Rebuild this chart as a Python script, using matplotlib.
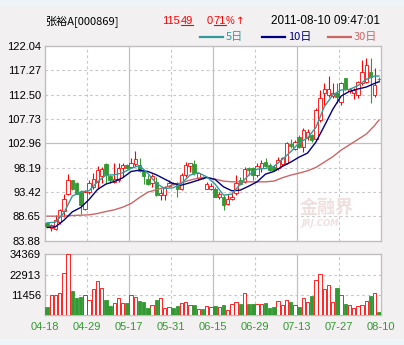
import matplotlib
matplotlib.use('Agg')
import matplotlib.pyplot as plt
from matplotlib.patches import Rectangle
from matplotlib.lines import Line2D
import numpy as np

# ---- data (张裕A, 2011-04-18 .. 2011-08-10) ----
opens = [87.38, 86.46, 86.27, 87.58, 89.73, 93.13, 95.75, 95.10, 93.46, 90.19,
         93.46, 94.44, 95.42, 96.54, 98.89, 96.54, 95.42, 95.75, 98.04, 98.70,
         98.24, 98.89, 98.70, 97.58, 95.88, 95.23, 95.42, 92.81, 92.81, 94.64,
         95.15, 95.10, 94.11, 96.73, 98.50, 98.89, 96.08, 96.41, 94.11, 93.92,
         94.11, 92.48, 92.48, 91.04, 91.96, 93.27, 95.75, 95.42, 98.04, 98.04,
         96.73, 98.04, 99.35, 98.70, 98.37, 98.04, 98.89, 99.02, 102.81, 101.77,
         104.25, 102.29, 104.25, 104.58, 103.73, 107.52, 112.76, 112.43, 112.23, 112.76,
         111.12, 115.70, 113.28, 112.76, 112.43, 114.72, 115.04, 117.01, 112.43, 115.60]
highs = [87.58, 87.25, 88.88, 90.19, 93.00, 96.93, 95.80, 95.42, 93.79, 93.79,
         95.75, 97.19, 98.50, 98.37, 99.02, 96.73, 99.15, 99.15, 99.02, 98.89,
         100.00, 101.44, 100.00, 97.60, 96.73, 96.93, 96.41, 94.11, 94.57, 95.75,
         95.30, 95.42, 97.06, 99.35, 99.15, 99.68, 97.19, 96.60, 95.42, 95.23,
         94.44, 93.46, 92.81, 93.13, 93.46, 96.73, 96.41, 98.37, 98.37, 98.37,
         99.02, 99.68, 100.00, 99.02, 98.70, 100.20, 100.33, 103.27, 103.73, 103.60,
         104.58, 105.89, 105.69, 104.78, 109.81, 113.41, 114.72, 116.16, 114.72, 114.72,
         115.04, 115.75, 113.74, 113.74, 115.24, 119.30, 119.62, 119.62, 117.66, 115.90]
lows = [86.60, 85.81, 85.94, 87.25, 88.56, 92.81, 93.79, 93.00, 89.21, 89.87,
        93.13, 94.11, 94.11, 95.10, 95.10, 95.23, 95.23, 95.42, 96.41, 97.85,
        98.04, 98.50, 97.39, 94.97, 94.77, 94.44, 92.61, 91.83, 91.83, 94.44,
        94.80, 92.48, 93.79, 96.41, 97.39, 96.73, 95.75, 95.90, 93.92, 93.79,
        92.35, 92.15, 89.87, 90.85, 91.83, 92.81, 94.77, 95.10, 96.73, 95.75,
        96.41, 97.39, 98.37, 97.58, 97.58, 97.71, 98.50, 98.89, 101.96, 101.64,
        101.96, 101.31, 103.60, 103.27, 103.60, 107.20, 110.47, 112.10, 111.78, 110.79,
        110.47, 113.41, 112.76, 111.58, 111.78, 114.39, 114.72, 110.79, 112.10, 114.90]
closes = [86.79, 86.92, 87.90, 89.99, 92.15, 95.75, 94.11, 93.13, 90.85, 93.46,
          95.10, 95.88, 97.71, 97.85, 96.73, 95.75, 95.88, 98.04, 98.70, 98.04,
          99.15, 99.81, 97.58, 96.54, 94.97, 96.54, 92.81, 93.27, 94.44, 95.23,
          94.95, 94.11, 96.73, 98.70, 99.02, 97.06, 97.06, 96.08, 94.97, 94.64,
          92.48, 93.00, 90.85, 91.96, 92.48, 95.10, 94.97, 97.85, 97.71, 96.73,
          98.50, 99.15, 98.50, 97.71, 97.71, 99.68, 100.00, 102.94, 102.42, 103.27,
          102.29, 105.56, 105.24, 103.60, 109.49, 111.78, 113.54, 113.54, 112.76, 112.10,
          114.72, 113.54, 113.54, 113.41, 115.04, 117.01, 118.31, 116.02, 114.39, 115.49]
volumes = [4700, 11340, 11340, 12300, 23600, 34369, 13600, 9800, 10200, 11340,
           8500, 14700, 19100, 15300, 8500, 5300, 6800, 9450, 6800, 6800,
           11340, 10000, 7900, 7560, 4000, 5700, 8500, 9450, 4000, 4350,
           4000, 5100, 6800, 7400, 5700, 5700, 3400, 3400, 4900, 4350,
           5100, 4350, 5700, 2800, 6200, 7400, 6200, 12500, 6200, 6200,
           6200, 6200, 6800, 4000, 4500, 7900, 5700, 8500, 7400, 5700,
           4500, 9600, 7400, 10800, 19800, 23200, 14700, 17000, 7400, 15300,
           11340, 6200, 5700, 4000, 5100, 5700, 7900, 10800, 12500, 1700]

# moving averages, read every second day plus the last one
ma5 = [87.38, 87.51, 89.34, 92.61, 93.46, 93.66, 95.42, 96.73, 96.80, 97.19,
       98.04, 98.63, 97.06, 95.10, 94.11, 94.25, 95.10, 96.73, 97.19, 96.41,
       94.97, 92.81, 93.00, 94.97, 96.73, 97.91, 98.04, 98.43, 99.81, 101.31,
       103.08, 103.99, 106.09, 110.14, 112.43, 113.41, 113.54, 114.26, 115.50, 116.16, 116.16]
ma10 = [86.46, 86.60, 87.90, 89.54, 90.39, 91.96, 93.92, 94.97, 95.49, 96.21,
        97.45, 97.71, 97.45, 96.80, 95.95, 95.10, 94.77, 95.23, 95.75, 96.28,
        95.88, 94.44, 93.66, 93.79, 94.57, 95.42, 96.93, 97.45, 98.43, 99.28,
        100.26, 101.05, 103.21, 106.35, 109.60, 112.23, 113.15, 113.61, 114.00, 114.72, 115.04]
ma30 = [88.69, 88.69, 88.69, 88.82, 88.88, 88.95, 89.21, 89.60, 89.93, 90.45,
        91.17, 92.35, 93.40, 93.86, 94.31, 94.84, 95.23, 95.75, 96.14, 96.28,
        95.95, 95.56, 95.42, 95.42, 95.42, 95.42, 95.42, 95.56, 96.21, 96.73,
        97.13, 97.58, 98.24, 99.28, 100.33, 101.64, 102.68, 103.73, 104.78, 106.48, 107.52]

price_ticks = [122.04, 117.27, 112.50, 107.73, 102.96, 98.19, 93.42, 88.65, 83.88]
vol_ticks = [11456, 22913, 34369]
date_labels = ['04-18', '04-29', '05-17', '05-31', '06-15', '06-29', '07-13', '07-27', '08-10']

RED = '#ff0000'
GREEN = '#339933'
GRID = '#c8c8c8'
BORDER = '#c0c0c0'
NUM_FONT = 'Liberation Sans'
CJK = ['Noto Sans CJK SC', 'DejaVu Sans']

W, H = 404, 345
fig = plt.figure(figsize=(W / 100, H / 100), dpi=100)
fig.patch.set_facecolor('#f2f0f0')
fig.patches.append(Rectangle((0, 1 - 5 / H), 1, 5 / H, transform=fig.transFigure,
                             color='#eef3f7', zorder=0))
fig.patches.append(Rectangle((0, 0), 1, 6 / H, transform=fig.transFigure,
                             color='#eef5f9', zorder=0))


def fx(px):
    return px / W


def fy(py):
    return 1 - py / H


ax = fig.add_axes([fx(45), fy(240.7), 336 / W, (240.7 - 46) / H])
axv = fig.add_axes([fx(45), fy(315), 336 / W, (315 - 254.3) / H])

n = len(closes)
x = np.arange(n) + 0.5
o = np.array(opens)
c = np.array(closes)
up = c >= o
cols = np.where(up, RED, GREEN)
BW = 0.78   # bar width in day units
LW = 0.6

# grid
for a in (ax, axv):
    a.set_facecolor('white')
    a.set_xlim(0, n)
    for k in range(10, n, 10):
        if k % 20 == 0:
            a.axvline(k, color=BORDER, lw=0.9, zorder=0)
        else:
            a.axvline(k, color=GRID, lw=0.8, ls=(0, (2.5, 2.5)), zorder=0)
    for s in a.spines.values():
        s.set_color(BORDER)
        s.set_linewidth(1.0)

for t in price_ticks[1:-1]:
    if t == 102.96:
        ax.axhline(t, color=BORDER, lw=0.9, zorder=0)
    else:
        ax.axhline(t, color=GRID, lw=0.8, ls=(0, (2.5, 2.5)), zorder=0)
for t in vol_ticks[:-1]:
    axv.axhline(t, color=GRID, lw=0.8, ls=(0, (2.5, 2.5)), zorder=0)

# candles
ax.vlines(x, lows, highs, colors=cols, lw=0.8, zorder=2)
body_lo = np.minimum(o, c)
body_h = np.maximum(np.abs(c - o), 0.1)
ax.bar(x[up], body_h[up], bottom=body_lo[up], width=BW, facecolor='white',
       edgecolor=RED, lw=LW, zorder=3)
ax.bar(x[~up], body_h[~up], bottom=body_lo[~up], width=BW, facecolor=GREEN,
       edgecolor=GREEN, lw=LW, zorder=3)

# moving averages
ma_x = np.array(list(range(0, n - 1, 2)) + [n - 1]) + 0.5
ax.plot(ma_x, ma30, color='#cc6666', lw=1.0, zorder=4)
ax.plot(ma_x, ma10, color='#000080', lw=1.0, zorder=4)
ax.plot(ma_x, ma5, color='#339999', lw=1.0, zorder=4)

ax.set_ylim(83.88, 122.04)
ax.set_yticks(price_ticks)
ax.set_yticklabels(['%.2f' % t for t in price_ticks], fontfamily=NUM_FONT, fontsize=8)
ax.set_xticks([])
ax.tick_params(length=0, pad=3)

# volume
v = np.array(volumes)
axv.bar(x[up], v[up], width=BW, facecolor='white', edgecolor=RED, lw=LW, zorder=3)
axv.bar(x[~up], v[~up], width=BW, facecolor=GREEN, edgecolor=GREEN, lw=LW, zorder=3)
axv.set_ylim(0, 34369)
axv.set_yticks(vol_ticks)
axv.set_yticklabels([str(t) for t in vol_ticks], fontfamily=NUM_FONT, fontsize=8)
axv.set_xticks(range(0, n + 1, 10))
axv.set_xticklabels(date_labels, fontfamily=NUM_FONT, fontsize=8, color=GREEN)
axv.tick_params(length=0, pad=3)
axv.tick_params(axis='x', pad=5)

# watermark
fig.text(fx(300), fy(207), '金融界', family=CJK, fontsize=13, fontweight='bold',
         color='#efe0e0', va='center', ha='left', zorder=1)
fig.text(fx(301), fy(224), 'JRJ.COM', fontsize=6, fontweight='bold', style='italic',
         color='#efe0e0', va='center', ha='left', zorder=1)

# header
fig.text(fx(45), fy(21), '张裕A[000869]', family=CJK, fontsize=8, va='center', ha='left')
fig.text(fx(162), fy(21), '115', family=NUM_FONT, fontsize=8, color=RED, va='center')
fig.text(fx(180.5), fy(21), '49', family=NUM_FONT, fontsize=8, color=RED, va='center')
fig.lines.append(Line2D([fx(180.5), fx(193)], [fy(25), fy(25)], transform=fig.transFigure,
                        color=RED, lw=0.8))
fig.text(fx(207), fy(21), '0', family=NUM_FONT, fontsize=8, color=RED, va='center')
fig.text(fx(213.5), fy(21), '71', family=NUM_FONT, fontsize=8, color=RED, va='center')
fig.lines.append(Line2D([fx(213.5), fx(226)], [fy(25), fy(25)], transform=fig.transFigure,
                        color=RED, lw=0.8))
fig.text(fx(226), fy(21), '%', family=NUM_FONT, fontsize=7, color=RED, va='center')
fig.text(fx(235.5), fy(21), '↑', family='DejaVu Sans', fontsize=7.5, color=RED, va='center')
fig.text(fx(380), fy(21), '2011-08-10 09:47:01', family=NUM_FONT, fontsize=8.5,
         va='center', ha='right')

# legend
for x0, lab, col in [(200, '5日', '#339999'), (262, '10日', '#000080'), (328, '30日', '#cc6666')]:
    fig.lines.append(Line2D([fx(x0), fx(x0 + 23)], [fy(37), fy(37)], transform=fig.transFigure,
                            color=col, lw=1.6))
    fig.text(fx(x0 + 26), fy(37), lab, family=CJK, fontsize=8, color=col, va='center', ha='left')

fig.savefig('out.png', dpi=100, facecolor=fig.get_facecolor())
